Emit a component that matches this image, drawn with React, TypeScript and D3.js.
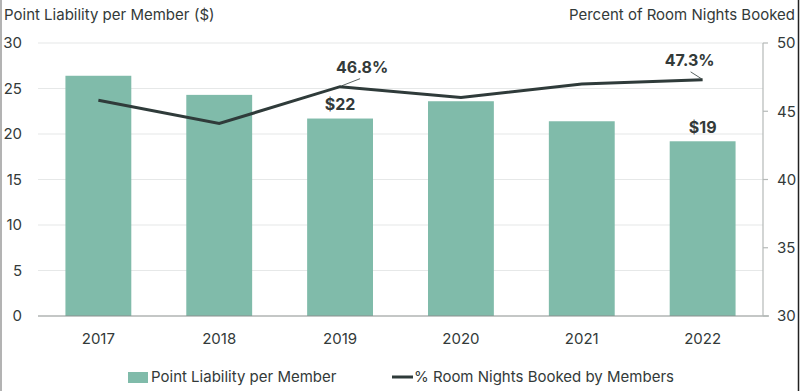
import React from "react";
import * as d3 from "d3";

const years = ["2017", "2018", "2019", "2020", "2021", "2022"];
const liability = [26.4, 24.3, 21.7, 23.6, 21.4, 19.2];
const pctBooked = [45.8, 44.1, 46.8, 46.0, 47.0, 47.3];
const leftTicks = [0, 5, 10, 15, 20, 25, 30];
const rightTicks = [30, 35, 40, 45, 50];

const W = 800, H = 391;
const m = { left: 38, right: 763, top: 43, bottom: 316 };
const FONT = "Inter, 'Open Sans', sans-serif";
const TXT = "#333a39";
const BAR = "#80bbaa";
const LINE = "#2f3b3a";

export default function App() {
  const x = d3.scaleBand<string>().domain(years).range([m.left, m.right]).paddingInner(0.455).paddingOuter(0.227);
  const yL = d3.scaleLinear().domain([0, 30]).range([m.bottom, m.top]);
  const yR = d3.scaleLinear().domain([30, 50]).range([m.bottom, m.top]);
  const cx = (y: string) => (x(y) as number) + x.bandwidth() / 2;
  const line = d3.line<number>().x((_, i) => cx(years[i])).y((d) => yR(d));

  const i19 = 2, i22 = 5;
  return (
    <svg width={W} height={H} style={{ position: "absolute", left: 0, top: 0, background: "#fff" }} fontFamily={FONT}>
      <rect x={0} y={0} width={W} height={H} fill="#fff" />
      <line x1={1} x2={1} y1={0} y2={H} stroke="#9a9a9a" strokeWidth={1.5} />
      <line x1={798.5} x2={798.5} y1={0} y2={H} stroke="#222" strokeWidth={1.5} />
      {leftTicks.map((t) => (
        <g key={t}>
          {t > 0 && <line x1={m.left} x2={m.right} y1={yL(t)} y2={yL(t)} stroke="#e6e8e8" strokeWidth={1.2} />}
          <text x={22} y={yL(t)} dy="0.35em" textAnchor="end" fontSize={15} fill={TXT}>{t}</text>
        </g>
      ))}
      {years.map((yr, i) => (
        <rect key={yr} x={x(yr)} y={yL(liability[i])} width={x.bandwidth()} height={m.bottom - yL(liability[i])} fill={BAR} />
      ))}
      <line x1={m.left} x2={m.right + 6} y1={m.bottom} y2={m.bottom} stroke="#8a8f8e" strokeWidth={1.2} />
      <line x1={m.right} x2={m.right} y1={m.top} y2={m.bottom} stroke="#b5b9b8" strokeWidth={1.2} />
      {rightTicks.map((t) => (
        <g key={t}>
          <line x1={m.right} x2={m.right + 5} y1={yR(t)} y2={yR(t)} stroke="#b5b9b8" strokeWidth={1.2} />
          <text x={777} y={yR(t)} dy="0.35em" textAnchor="start" fontSize={15} fill={TXT}>{t}</text>
        </g>
      ))}
      <path d={line(pctBooked) || ""} fill="none" stroke={LINE} strokeWidth={3} strokeLinejoin="miter" />
      {years.map((yr) => (
        <text key={yr} x={cx(yr)} y={339} dy="0.35em" textAnchor="middle" fontSize={15} fill={TXT}>{yr}</text>
      ))}
      {/* annotations */}
      <text x={cx(years[i19])} y={yL(liability[i19]) - 14} dy="0.35em" textAnchor="middle" fontSize={16} fontWeight={700} fill={TXT}>$22</text>
      <text x={cx(years[i22])} y={yL(liability[i22]) - 14} dy="0.35em" textAnchor="middle" fontSize={16} fontWeight={700} fill={TXT}>$19</text>
      <line x1={cx(years[i19]) + 2} y1={yR(pctBooked[i19]) - 1} x2={cx(years[i19]) + 20} y2={yR(pctBooked[i19]) - 8} stroke={LINE} strokeWidth={0.8} />
      <text x={cx(years[i19]) + 22} y={yR(pctBooked[i19]) - 19} dy="0.35em" textAnchor="middle" fontSize={16} fontWeight={700} fill={TXT}>46.8%</text>
      <line x1={cx(years[i22]) - 1} y1={yR(pctBooked[i22]) - 1} x2={cx(years[i22]) - 12} y2={yR(pctBooked[i22]) - 8} stroke={LINE} strokeWidth={0.8} />
      <text x={cx(years[i22]) - 13} y={yR(pctBooked[i22]) - 19} dy="0.35em" textAnchor="middle" fontSize={16} fontWeight={700} fill={TXT}>47.3%</text>
      {/* titles */}
      <text x={4} y={15} dy="0.35em" fontSize={15} fill={TXT}>Point Liability per Member</text>
      <text x={194} y={15} dy="0.35em" fontSize={15} fill={TXT}>($)</text>
      <text x={795} y={15} dy="0.35em" textAnchor="end" fontSize={15} fill={TXT}>Percent of Room Nights Booked</text>
      {/* legend */}
      <rect x={128} y={372} width={20} height={11} fill={BAR} />
      <text x={151} y={377} dy="0.35em" fontSize={15} fill={TXT}>Point Liability per Member</text>
      <line x1={392} x2={413} y1={377} y2={377} stroke={LINE} strokeWidth={3} />
      <text x={414} y={377} dy="0.35em" fontSize={15} fill={TXT}>% Room Nights Booked by Members</text>
    </svg>
  );
}
